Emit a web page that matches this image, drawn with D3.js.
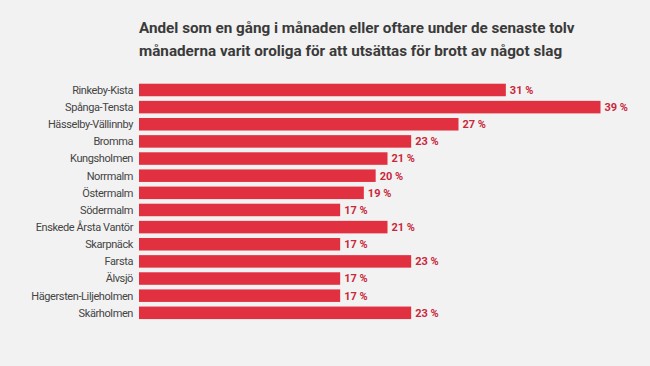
<!DOCTYPE html>
<html><head><meta charset="utf-8">
<script src="https://cdn.jsdelivr.net/npm/d3@7"></script>
<style>html,body{margin:0;padding:0;background:#f2f2f2;}</style>
</head><body>
<script>
const titleLines = ["Andel som en gång i månaden eller oftare under de senaste tolv",
  "månaderna varit oroliga för att utsättas för brott av något slag"];
const categories = ["Rinkeby-Kista","Spånga-Tensta","Hässelby-Vällinnby","Bromma","Kungsholmen","Norrmalm","Östermalm","Södermalm","Enskede Årsta Vantör","Skarpnäck","Farsta","Älvsjö","Hägersten-Liljeholmen","Skärholmen"];
const values = [31,39,27,23,21,20,19,17,21,17,23,17,17,23];

const W = 650, H = 366;
const svg = d3.select("body").append("svg").attr("width", W).attr("height", H)
  .style("background", "#f2f2f2");

const x0 = 139;
const x = d3.scaleLinear().domain([0, 39]).range([x0, 600.5]);
const y = d3.scaleBand().domain(categories).range([81.5, 321.3]).paddingInner(0.27).paddingOuter(0.13);

const title = svg.append("g");
titleLines.forEach((t, i) => {
  title.append("text").attr("x", x0).attr("y", 33 + i * 22.7)
    .attr("font-family", "Roboto, sans-serif").attr("font-weight", 700)
    .attr("font-size", 16).attr("fill", "#3a3a3a").text(t);
});
const l0 = title.select("text").node().getComputedTextLength();
title.selectAll("text").attr("font-size", 16 * 436 / l0);

svg.append("g").selectAll("rect").data(categories).join("rect")
  .attr("x", x(0)).attr("y", d => y(d))
  .attr("width", (d, i) => x(values[i]) - x(0)).attr("height", y.bandwidth())
  .attr("fill", "#e1303f");

const cat = svg.append("g").selectAll("text").data(categories).join("text")
  .attr("x", x0 - 6).attr("y", d => y(d) + y.bandwidth() / 2).attr("dy", "0.35em")
  .attr("text-anchor", "end").attr("font-family", "Roboto, sans-serif")
  .attr("font-size", 11).attr("fill", "#444").text(d => d);
// fit "Hässelby-Vällinnby" to ~83px with letter spacing
const hl = cat.filter(d => d === "Hässelby-Vällinnby").node().getComputedTextLength();
cat.attr("letter-spacing", Math.max(-0.4, (83 - hl) / 18));

svg.append("g").selectAll("text").data(categories).join("text")
  .attr("x", (d, i) => x(values[i]) + 4).attr("y", d => y(d) + y.bandwidth() / 2).attr("dy", "0.35em")
  .attr("font-family", "Roboto, sans-serif").attr("font-weight", 700)
  .attr("font-size", 11).attr("fill", "#c9283b").text((d, i) => values[i] + " %");
</script>
</body></html>
